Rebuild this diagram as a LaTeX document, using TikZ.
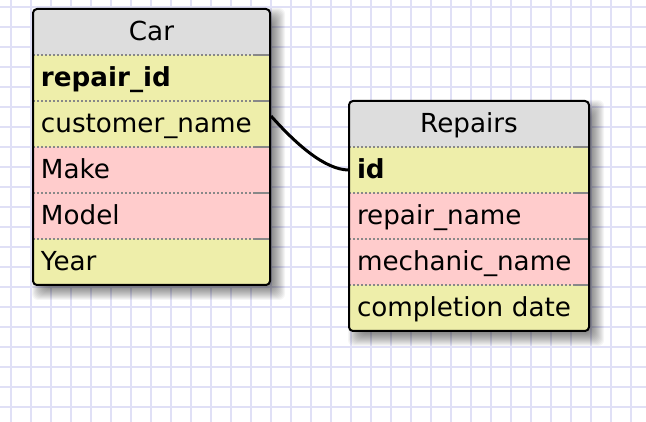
\documentclass[tikz,border=0pt]{standalone}
\usepackage{fontspec}
\setmainfont{DejaVu Sans}
\definecolor{gridc}{RGB}{224,224,246}
\definecolor{hdr}{RGB}{221,221,221}
\definecolor{yel}{RGB}{238,238,170}
\definecolor{pnk}{RGB}{255,204,204}
\definecolor{sepc}{RGB}{136,136,136}
\tikzset{
 row/.style={anchor=north west, minimum height=46pt, inner xsep=8pt, inner ysep=10pt, text height=22pt, text depth=4pt, align=left, font=\fontsize{26.2}{30}\selectfont, outer sep=0pt},
 carrow/.style={row, text width=221pt},
 reprow/.style={row, text width=224pt},
 hdrrow/.style={fill=hdr, align=center},
 numrow/.style={fill=yel},
 strrow/.style={fill=pnk},
 sepline/.style={draw=sepc, line width=2pt, dash pattern=on 2pt off 2pt},
 sepend/.style={draw=sepc, line width=2pt},
 border/.style={draw=black, line width=2pt, rounded corners=4pt},
 shadowlayer/.style={fill=black, fill opacity=0.04, rounded corners=6pt},
 rel/.style={draw=black, line width=3pt},
 gridline/.style={draw=gridc, line width=1.6pt},
}
\begin{document}
\begin{tikzpicture}[x=1pt,y=-1pt]
\useasboundingbox (0,0) rectangle (646,422);
\fill[white] (0,0) rectangle (646,422);
\begin{scope}
\clip (0,0) rectangle (646,422);
\foreach \x in {11,31,...,651} \draw[gridline] (\x,0) -- (\x,422);
\foreach \y in {7,27,...,427} \draw[gridline] (0,\y) -- (646,\y);
% soft shadows
\foreach \e in {-7,...,8} {
  \fill[shadowlayer] ({40-\e},{16-\e}) rectangle ({277+\e},{292+\e});
  \fill[shadowlayer] ({356-\e},{108-\e}) rectangle ({596+\e},{338+\e});
}
\end{scope}
% Car table
\begin{scope}
\clip[rounded corners=4pt] (33,9) rectangle (270,285);
\node[carrow, hdrrow] (carh) at (33,9) {Car};
\node[carrow, numrow] (car1) at (33,55) {\textbf{repair\_id}};
\node[carrow, numrow] (car2) at (33,101) {customer\_name};
\node[carrow, strrow] (car3) at (33,147) {Make};
\node[carrow, strrow] (car4) at (33,193) {Model};
\node[carrow, numrow] (car5) at (33,239) {Year};
\foreach \n in {car1,car2,car3,car4,car5} {
  \draw[sepline] (\n.north west) -- (\n.north east);
  \draw[sepend] ([xshift=-16pt]\n.north east) -- (\n.north east);
}
\end{scope}
\draw[border] (carh.north west) rectangle (car5.south east);
% Repairs table
\begin{scope}
\clip[rounded corners=4pt] (349,101) rectangle (589,331);
\node[reprow, hdrrow] (reph) at (349,101) {Repairs};
\node[reprow, numrow] (rep1) at (349,147) {\textbf{id}};
\node[reprow, strrow] (rep2) at (349,193) {repair\_name};
\node[reprow, strrow] (rep3) at (349,239) {mechanic\_name};
\node[reprow, numrow] (rep4) at (349,285) {completion date};
\foreach \n in {rep1,rep2,rep3,rep4} {
  \draw[sepline] (\n.north west) -- (\n.north east);
  \draw[sepend] ([xshift=-16pt]\n.north east) -- (\n.north east);
}
\end{scope}
\draw[border] (reph.north west) rectangle (rep4.south east);
% relation
\draw[rel] ([shift={(1pt,8pt)}]car2.east) .. controls +(25,28) and +(-24,0) .. (rep1.west);
\end{tikzpicture}
\end{document}
